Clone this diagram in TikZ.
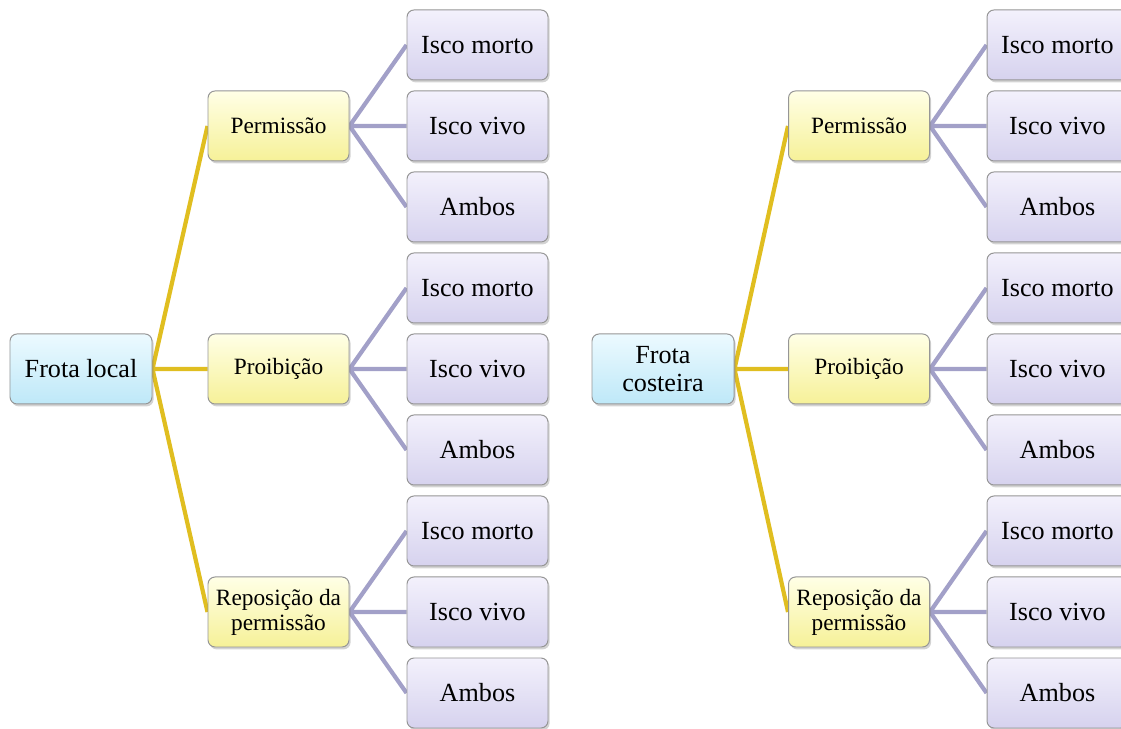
\documentclass[tikz,border=0pt]{standalone}
\usepackage{fontspec}
\setmainfont{Liberation Serif}
\usepackage{tikz}
\usetikzlibrary{positioning, calc, shadows, backgrounds}
\tikzset{
	every text node part/.style = {align=center},
	caixa/.style = {
		draw = {rgb,255:red,150; green,150; blue,150},
		line width = 0.7pt,
		rounded corners = 5pt,
		minimum width = 3.525cm,
		minimum height = 1.75cm,
		inner sep = 1pt,
		drop shadow = {opacity=0.35, shadow xshift=0.04cm, shadow yshift=-0.06cm}
	},
	raiz/.style = {
		caixa, minimum width = 3.55cm,
		top color = {rgb,255:red,236; green,250; blue,255},
		bottom color = {rgb,255:red,190; green,232; blue,248},
		font = \fontsize{18.6}{19.4}\selectfont
	},
	regra/.style = {
		caixa,
		top color = {rgb,255:red,255; green,255; blue,230},
		bottom color = {rgb,255:red,246; green,241; blue,152},
		font = \fontsize{16.6}{17.8}\selectfont
	},
	isco/.style = {
		caixa,
		top color = {rgb,255:red,243; green,241; blue,252},
		bottom color = {rgb,255:red,214; green,210; blue,238},
		font = \fontsize{18.6}{19.4}\selectfont
	},
	ramoA/.style = {color={rgb,255:red,224; green,190; blue,32}, line width=3pt},
	ramoB/.style = {color={rgb,255:red,162; green,160; blue,200}, line width=3pt}
}

\begin{document}
\begin{tikzpicture}

	\useasboundingbox (0,0) rectangle (28.025,18.225);
	\clip (0,0) rectangle (28.025,18.225);

	% frota local
	\node [raiz] (fl) at (2.025,9) {Frota local};
	\node [regra] (flPerm) at (6.9625,15.075) {Permissão};
	\node [regra] (flProib) at (6.9625,9) {Proibição};
	\node [regra] (flRepos) at (6.9625,2.925) {Reposição da\\permissão};

	\node [isco] (flPm) at (11.9375,17.1) {Isco morto};
	\node [isco] (flPv) at (11.9375,15.075) {Isco vivo};
	\node [isco] (flPa) at (11.9375,13.05) {Ambos};
	\node [isco] (flIm) at (11.9375,11.025) {Isco morto};
	\node [isco] (flIv) at (11.9375,9) {Isco vivo};
	\node [isco] (flIa) at (11.9375,6.975) {Ambos};
	\node [isco] (flRm) at (11.9375,4.95) {Isco morto};
	\node [isco] (flRv) at (11.9375,2.925) {Isco vivo};
	\node [isco] (flRa) at (11.9375,0.9) {Ambos};

	% frota costeira
	\node [raiz] (fc) at (16.575,9) {Frota\\costeira};
	\node [regra] (fcPerm) at (21.475,15.075) {Permissão};
	\node [regra] (fcProib) at (21.475,9) {Proibição};
	\node [regra] (fcRepos) at (21.475,2.925) {Reposição da\\permissão};

	\node [isco] (fcPm) at (26.4375,17.1) {Isco morto};
	\node [isco] (fcPv) at (26.4375,15.075) {Isco vivo};
	\node [isco] (fcPa) at (26.4375,13.05) {Ambos};
	\node [isco] (fcIm) at (26.4375,11.025) {Isco morto};
	\node [isco] (fcIv) at (26.4375,9) {Isco vivo};
	\node [isco] (fcIa) at (26.4375,6.975) {Ambos};
	\node [isco] (fcRm) at (26.4375,4.95) {Isco morto};
	\node [isco] (fcRv) at (26.4375,2.925) {Isco vivo};
	\node [isco] (fcRa) at (26.4375,0.9) {Ambos};

	\begin{scope}[on background layer]
		\draw [ramoA] (fl.east) -- (flPerm.west) (fl.east) -- (flProib.west) (fl.east) -- (flRepos.west);
		\draw [ramoA] (fc.east) -- (fcPerm.west) (fc.east) -- (fcProib.west) (fc.east) -- (fcRepos.west);

		\draw [ramoB] (flPerm.east) -- (flPm.west) (flPerm.east) -- (flPv.west) (flPerm.east) -- (flPa.west);
		\draw [ramoB] (flProib.east) -- (flIm.west) (flProib.east) -- (flIv.west) (flProib.east) -- (flIa.west);
		\draw [ramoB] (flRepos.east) -- (flRm.west) (flRepos.east) -- (flRv.west) (flRepos.east) -- (flRa.west);

		\draw [ramoB] (fcPerm.east) -- (fcPm.west) (fcPerm.east) -- (fcPv.west) (fcPerm.east) -- (fcPa.west);
		\draw [ramoB] (fcProib.east) -- (fcIm.west) (fcProib.east) -- (fcIv.west) (fcProib.east) -- (fcIa.west);
		\draw [ramoB] (fcRepos.east) -- (fcRm.west) (fcRepos.east) -- (fcRv.west) (fcRepos.east) -- (fcRa.west);
	\end{scope}
\end{tikzpicture}
\end{document}
